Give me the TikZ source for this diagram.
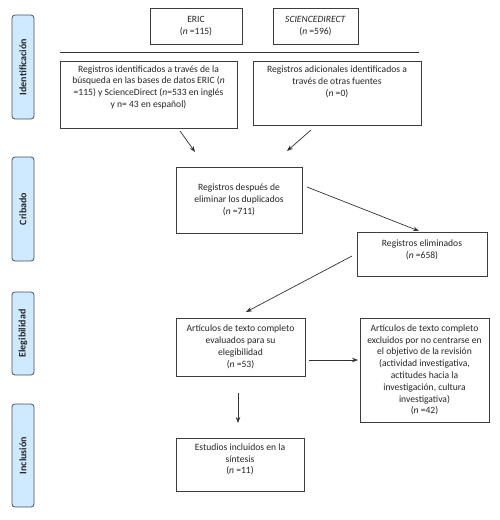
\documentclass[tikz,border=0pt]{standalone}
\usepackage{fontspec}
\setmainfont{Carlito}
\usetikzlibrary{arrows.meta}
\definecolor{sidefill}{RGB}{207,234,255}
\definecolor{sideline}{RGB}{70,80,95}
\definecolor{boxline}{RGB}{60,60,60}
\tikzset{
  box/.style={draw=boxline, line width=0.7pt, rectangle, inner sep=0pt},
  txt/.style={align=center, inner sep=0pt, font=\fontsize{9.6}{11.8}\selectfont, text=black!85},
  side/.style={draw=sideline, fill=sidefill, line width=0.8pt, rounded corners=3pt, minimum width=22pt, inner sep=0pt},
  sidetxt/.style={rotate=90, font=\fontsize{10}{12}\selectfont\bfseries, text=black!85},
  arr/.style={draw=black!80, line width=0.7pt, -{Stealth[length=6pt,width=4.5pt]}},
  plain/.style={draw=black!80, line width=0.8pt}
}
\begin{document}
\begin{tikzpicture}[x=1pt,y=-1pt]
\useasboundingbox[fill=white] (0,0) rectangle (500,520);
% side labels
\node[side, minimum height=104pt] (s1) at (23,67) {};
\node[sidetxt] at (s1) {Identificación};
\node[side, minimum height=104pt] (s2) at (23,209) {};
\node[sidetxt] at (s2) {Cribado};
\node[side, minimum height=83pt] (s3) at (23,333.5) {};
\node[sidetxt] at (s3) {Elegibilidad};
\node[side, minimum height=103pt] (s4) at (23,455.5) {};
\node[sidetxt] at (s4) {Inclusión};
% top boxes
\node[box, minimum width=92pt, minimum height=36pt] (eric) at (196,26) {};
\node[txt] at (eric) {ERIC\\(\textit{n} =115)};
\node[box, minimum width=85pt, minimum height=36pt] (sd) at (315.5,26) {};
\node[txt] at (sd) {\textit{SCIENCEDIRECT}\\(\textit{n} =596)};
% horizontal rule
\coordinate (hl) at (60,52);
\coordinate (hr) at (419,52);
\draw[plain] (hl) -- (hr);
% identification boxes
\node[box, minimum width=177pt, minimum height=67pt] (b1) at (148.5,94.5) {};
\node[txt, anchor=north] at ([yshift=-4.5pt]b1.north) {Registros identificados a través de la\\búsqueda en las bases de datos ERIC (\textit{n}\\=115) y ScienceDirect (\textit{n}=533 en inglés\\y n= 43 en español)};
\node[box, minimum width=168pt, minimum height=64pt] (b2) at (337,93) {};
\node[txt, anchor=north] at ([yshift=-5pt]b2.north) {Registros adicionales identificados a\\través de otras fuentes\\(\textit{n} =0)};
% duplicates
\node[box, minimum width=126pt, minimum height=66pt] (dup) at (239,200) {};
\node[txt] at (dup) {Registros después de\\eliminar los duplicados\\(\textit{n} =711)};
% removed
\node[box, minimum width=130pt, minimum height=44pt] (rem) at (422,254) {};
\node[txt] at ([yshift=4pt]rem.center) {Registros eliminados\\(\textit{n} =658)};
% eligibility
\node[box, minimum width=129pt, minimum height=58pt] (eleg) at (240.5,347) {};
\node[txt] at (eleg) {Artículos de texto completo\\evaluados para su\\elegibilidad\\(\textit{n} =53)};
\node[box, minimum width=129pt, minimum height=104pt] (exc) at (424.5,370) {};
\node[txt] at (exc) {Artículos de texto completo\\excluidos por no centrarse en\\el objetivo de la revisión\\(actividad investigativa,\\actitudes hacia la\\investigación, cultura\\investigativa)\\(\textit{n} =42)};
% inclusion
\node[box, minimum width=128pt, minimum height=53pt] (inc) at (240,464.5) {};
\node[txt] at ([yshift=5pt]inc.center) {Estudios incluidos en la\\síntesis\\(\textit{n} =11)};
% connectors
\coordinate (a1s) at (180,131);
\coordinate (a1e) at (195,152);
\coordinate (a2s) at (311,130);
\coordinate (a2e) at (287,151);
\coordinate (a3s) at (307,187);
\coordinate (a3e) at (419,231);
\coordinate (a4s) at (352,256);
\coordinate (a4e) at (246,312);
\coordinate (a5s) at (309,360);
\coordinate (a5e) at (358,360);
\coordinate (a6s) at (238,393);
\coordinate (a6e) at (238,423);
\draw[arr] (a1s) -- (a1e);
\draw[arr] (a2s) -- (a2e);
\draw[arr] (a3s) -- (a3e);
\draw[arr] (a4s) -- (a4e);
\draw[arr] (a5s) -- (a5e);
\draw[arr] (a6s) -- (a6e);
\end{tikzpicture}
\end{document}
